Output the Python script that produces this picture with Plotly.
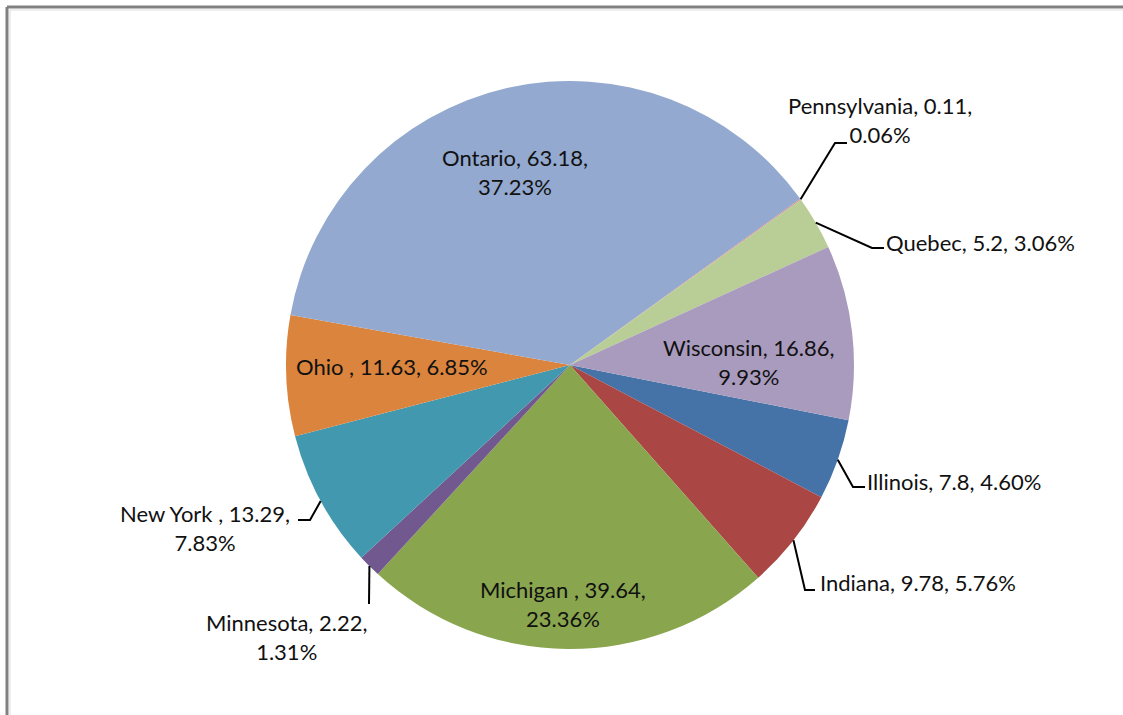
import math
import plotly.graph_objects as go

W, H = 1123, 715

states = ["Illinois", "Indiana", "Michigan ", "Minnesota", "New York ", "Ohio ",
          "Ontario", "Pennsylvania", "Quebec", "Wisconsin"]
values = [7.8, 9.78, 39.64, 2.22, 13.29, 11.63, 63.18, 0.11, 5.2, 16.86]
colors = ["#4572A7", "#AA4643", "#89A54E", "#71588F", "#4198AF", "#DB843D",
          "#93A9CF", "#D19392", "#B9CD96", "#A99BBD"]

# pie geometry in pixels
cx, cy, r = 570, 365, 284
rot = 101.2

# label placement (pixels): center / anchor, line breaks, leader elbow + end
label_pos = {
    "Illinois": (865, 481, "left", False, [(853, 487), (865, 487)]),
    "Indiana": (818, 582, "left", False, [(805, 590), (815, 590)]),
    "Michigan ": (563, 604, "center", True, None),
    "Minnesota": (286, 637, "center", True, [(369, 604)]),
    "New York ": (205, 528, "center", True, [(310, 520), (298, 520)]),
    "Ohio ": (392, 366, "center", False, None),
    "Ontario": (515, 172, "center", True, None),
    "Pennsylvania": (880, 120, "center", True, [(835, 143), (847, 143)]),
    "Quebec": (884, 242, "left", False, [(872, 248), (884, 248)]),
    "Wisconsin": (749, 362, "center", True, None),
}

total = sum(values)


def px(x, y):
    return x / W, 1 - y / H


fig = go.Figure(go.Pie(
    labels=states, values=values, sort=False, direction="clockwise",
    rotation=rot, textinfo="none", hoverinfo="label+value+percent",
    marker=dict(colors=colors, line=dict(width=0)),
    domain=dict(x=[(cx - r) / W, (cx + r) / W], y=[1 - (cy + r) / H, 1 - (cy - r) / H]),
    showlegend=False,
))

annotations = []
shapes = []
cum = 0
for s, v in zip(states, values):
    pct = 100 * v / total
    mid = math.radians(rot + 360 * (cum + v / 2) / total)
    cum += v
    lx, ly, anchor, brk, leader = label_pos[s]
    sep = "<br>" if brk else " "
    txt = f"{s}, {v:g},{sep}{pct:.2f}%"
    x, y = px(lx, ly)
    annotations.append(dict(x=x, y=y, xref="paper", yref="paper", text=txt,
                            showarrow=False, xanchor=anchor, yanchor="middle",
                            font=dict(family="Lato", size=22, color="#111111")))
    if leader:
        pts = [(cx + r * math.sin(mid), cy - r * math.cos(mid))] + leader
        path = "M " + " L ".join(f"{px(a, b)[0]},{px(a, b)[1]}" for a, b in pts)
        shapes.append(dict(type="path", path=path, xref="paper", yref="paper",
                           line=dict(color="black", width=2)))

# chart frame (top and left edges)
shapes += [
    dict(type="line", xref="paper", yref="paper", x0=px(7, 7)[0], y0=px(7, 7)[1],
         x1=1, y1=px(7, 7)[1], line=dict(color="#808080", width=3)),
    dict(type="line", xref="paper", yref="paper", x0=px(7, 7)[0], y0=px(7, 7)[1],
         x1=px(7, 7)[0], y1=0, line=dict(color="#808080", width=3)),
    dict(type="line", xref="paper", yref="paper", x0=px(10, 10)[0], y0=px(10, 10)[1],
         x1=1, y1=px(10, 10)[1], line=dict(color="#dddddd", width=1)),
    dict(type="line", xref="paper", yref="paper", x0=px(10, 10)[0], y0=px(10, 10)[1],
         x1=px(10, 10)[0], y1=0, line=dict(color="#dddddd", width=1)),
]

fig.update_layout(width=W, height=H, margin=dict(l=0, r=0, t=0, b=0),
                  paper_bgcolor="white", plot_bgcolor="white",
                  annotations=annotations, shapes=shapes)
fig.write_html("out.html", config={"displayModeBar": False},
               post_script="document.body.style.margin='0';")
